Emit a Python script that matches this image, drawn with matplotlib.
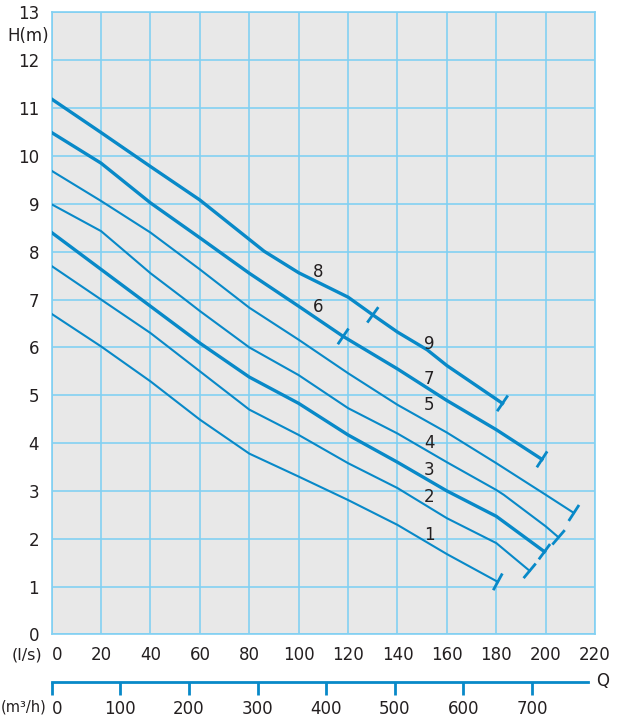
import numpy as np
import matplotlib.pyplot as plt

# pump curves: flow Q in l/s, head H in m
q_1 = [0, 20, 40, 60, 80, 100, 120, 140, 160, 180.6]
h_1 = [6.70, 6.02, 5.29, 4.49, 3.78, 3.30, 2.81, 2.29, 1.68, 1.10]

q_2 = [0, 20, 40, 60, 80, 100, 120, 140, 160, 180, 193.5]
h_2 = [7.70, 7.00, 6.30, 5.50, 4.70, 4.17, 3.58, 3.06, 2.43, 1.91, 1.33]

q_3 = [0, 20, 40, 60, 80, 100, 120, 140, 160, 180, 199.5]
h_3 = [8.40, 7.63, 6.86, 6.09, 5.38, 4.83, 4.17, 3.60, 3.00, 2.47, 1.73]

q_4 = [0, 20, 31.6, 40, 54, 60, 80, 100, 120, 140, 160, 180, 183, 200, 205.2]
h_4 = [8.99, 8.43, 7.92, 7.55, 7.00, 6.76, 6.00, 5.42, 4.73, 4.20, 3.60, 3.02, 2.92, 2.26, 2.03]

q_5 = [0, 20, 40, 60, 80, 100, 120, 140, 160, 180, 200, 211.4]
h_5 = [9.69, 9.06, 8.40, 7.63, 6.83, 6.16, 5.46, 4.80, 4.22, 3.58, 2.92, 2.54]

q_67 = [0, 20, 40, 60, 80, 100, 118, 140, 160, 180, 198.5]
h_67 = [10.49, 9.85, 9.02, 8.29, 7.55, 6.86, 6.23, 5.55, 4.89, 4.28, 3.66]

q_89 = [0, 20, 40, 60, 86, 100, 120, 130, 140, 152, 160, 182.5]
h_89 = [11.19, 10.49, 9.78, 9.08, 8.01, 7.56, 7.05, 6.68, 6.32, 5.95, 5.62, 4.83]

# where curve 6 becomes 7 and curve 8 becomes 9
split_67 = 118
split_89 = 130

x_ticks = list(range(0, 221, 20))
y_ticks = list(range(0, 14))
m3h_ticks = list(range(0, 701, 100))

blue = '#0889c8'
grid_blue = '#82d0f2'
ink = '#231f20'

plt.rcParams['font.family'] = ['DejaVu Sans']
fig = plt.figure(figsize=(6.19, 7.21), dpi=100)
ax = fig.add_axes([0.0835, 0.1200, 0.8779, 0.8627])
ax.set_facecolor('#e8e8e8')
ax.set_xlim(0, 220)
ax.set_ylim(0, 13)
ax.set_xticks(x_ticks)
ax.set_yticks(y_ticks)
ax.grid(True, color=grid_blue, lw=1.2)
ax.set_axisbelow(True)
for s in ax.spines.values():
    s.set_color(grid_blue)
    s.set_linewidth(1.2)
ax.tick_params(axis='both', length=0, labelsize=12, labelcolor=ink)
ax.tick_params(axis='x', pad=8)
ax.tick_params(axis='y', pad=9)
ax.get_xticklabels()[0].set_horizontalalignment('left')


def cross_tick(q, h, q_prev, h_prev, length=19):
    # short stroke across the curve, perpendicular on screen
    p0, p1 = ax.transData.transform([(q_prev, h_prev), (q, h)])
    d = (p1 - p0) / np.hypot(*(p1 - p0))
    n = np.array([-d[1], d[0]])
    pts = ax.transData.inverted().transform([p1 - n * length / 2, p1 + n * length / 2])
    ax.plot(pts[:, 0], pts[:, 1], color=blue, lw=2.0, solid_capstyle='butt', zorder=4)


curves = [(q_1, h_1, 1.5), (q_2, h_2, 1.5), (q_3, h_3, 2.4), (q_4, h_4, 1.5),
          (q_5, h_5, 1.5), (q_67, h_67, 2.4), (q_89, h_89, 2.4)]
for q, h, lw in curves:
    ax.plot(q, h, color=blue, lw=lw, solid_joinstyle='round', zorder=3)
    cross_tick(q[-1], h[-1], q[-2], h[-2])

for q, h, qs in [(q_67, h_67, split_67), (q_89, h_89, split_89)]:
    hs = np.interp(qs, q, h)
    cross_tick(qs, hs, qs - 5, np.interp(qs - 5, q, h))

labels = [('8', 107.9, 7.58), ('6', 107.9, 6.85), ('9', 152.9, 6.08), ('7', 152.9, 5.35),
          ('5', 152.9, 4.79), ('4', 152.9, 4.01), ('3', 152.9, 3.44), ('2', 152.9, 2.88),
          ('1', 152.9, 2.08)]
for txt, x, y in labels:
    ax.text(x, y, txt, fontsize=12, color=ink, ha='center', va='center', zorder=5)

fig.text(28 / 619, 1 - 36 / 721, 'H(m)', fontsize=12, color=ink, ha='center', va='center')
fig.text(27 / 619, 1 - 655 / 721, '(l/s)', fontsize=11.5, color=ink, ha='center', va='center')
fig.text(46 / 619, 1 - 707 / 721, '(m³/h)', fontsize=10.5, color=ink, ha='right', va='center')
fig.text(596 / 619, 1 - 681 / 721, 'Q', fontsize=12, color=ink, ha='left', va='center')

# second flow scale in m3/h
ax2 = fig.add_axes([0.0835, 1 - 681.7 / 721, 0.8779, 1e-4])
ax2.set_xlim(0, 220 * 3.6)
ax2.set_facecolor('none')
ax2.yaxis.set_visible(False)
for side in ['top', 'left', 'right']:
    ax2.spines[side].set_visible(False)
ax2.spines['bottom'].set_color(blue)
ax2.spines['bottom'].set_linewidth(2.0)
ax2.spines['bottom'].set_bounds(0, 782)
ax2.set_xticks(m3h_ticks)
ax2.tick_params(axis='x', direction='out', length=9.5, width=2.0, color=blue,
                labelsize=12, labelcolor=ink, pad=4)
ax2.get_xticklabels()[0].set_horizontalalignment('left')

fig.savefig('out.png', dpi=100)
